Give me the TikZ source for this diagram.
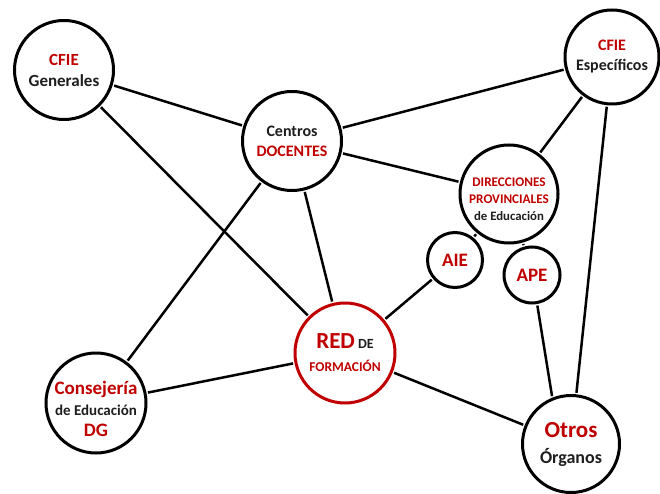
\documentclass[tikz,border=0pt]{standalone}
\usepackage{fontspec}
\setmainfont{Carlito}
\definecolor{dred}{RGB}{192,0,0}
\definecolor{dtext}{RGB}{30,30,30}
\newcommand\redt[1]{\textcolor{dred}{#1}}
\newcommand\blkt[1]{\textcolor{dtext}{#1}}
\newcommand\fs[2]{\fontsize{#1}{#2}\selectfont}
\begin{document}
\begin{tikzpicture}[x=1pt,y=-1pt,
  bub/.style={circle, draw=black, line width=3pt, inner sep=0pt, minimum size=#1, align=center},
  txt/.style={inner sep=0pt, align=center},
  link/.style={line width=2.5pt, draw=black, shorten <=1.5pt, shorten >=1.5pt},
]
\fill[white] (0,0) rectangle (660,494);
\useasboundingbox (0,0) rectangle (660,494);

\node[bub=99, font=\bfseries\fs{17}{21}] (gen) at (64,70) {\redt{CFIE}\\\blkt{Generales}};
\node[bub=94, font=\bfseries\fs{16}{20}] (esp) at (612,57) {\redt{CFIE}\\\blkt{Específicos}};
\node[bub=99, font=\bfseries\fs{16}{20}] (cen) at (292,141) {\blkt{Centros}\\\redt{DOCENTES}};
\node[bub=98] (dir) at (509,194) {};
\node[txt, font=\bfseries\fs{13.2}{17}] (dirtext) at (509,199) {\redt{DIRECCIONES}\\\redt{PROVINCIALES}\\\blkt{\fs{12.8}{17}de Educación}};
\node[bub=55, font=\bfseries\fs{19}{21}] (aie) at (455,260) {\redt{AIE}};
\node[bub=56, font=\bfseries\fs{19}{21}] (ape) at (532,275) {\redt{APE}};
\node[bub=100, draw=dred, font=\bfseries\fs{13.5}{23}] (red) at (345,353) {\redt{\fs{23}{23}RED} \blkt{\fs{14}{23}DE}\\\redt{FORMACIÓN}};
\node[bub=100] (con) at (96,403) {};
\node[txt, font=\bfseries\fs{19}{21}] (context) at (96,409) {\redt{Consejería}\\\blkt{\fs{15}{21}de Educación}\\\redt{DG}};
\node[bub=97, font=\bfseries\fs{23}{26}] (otr) at (571,444) {\redt{Otros}\\\blkt{\fs{18}{26}Órganos}};

\draw[link] (gen) -- (cen);
\draw[link] (gen) -- (red);
\draw[link] (cen) -- (esp);
\draw[link] (cen) -- (dir);
\draw[link] (cen) -- (con);
\draw[link] (cen) -- (red);
\draw[link] (esp) -- (dir);
\draw[link] (esp) -- (otr);
\draw[link] (dir) -- (aie);
\draw[link] (dir) -- (ape);
\draw[link] (aie) -- (red);
\draw[link] (ape.-80) -- (otr.112);
\draw[link] (red) -- (con);
\draw[link] (red) -- (otr);
\end{tikzpicture}
\end{document}
